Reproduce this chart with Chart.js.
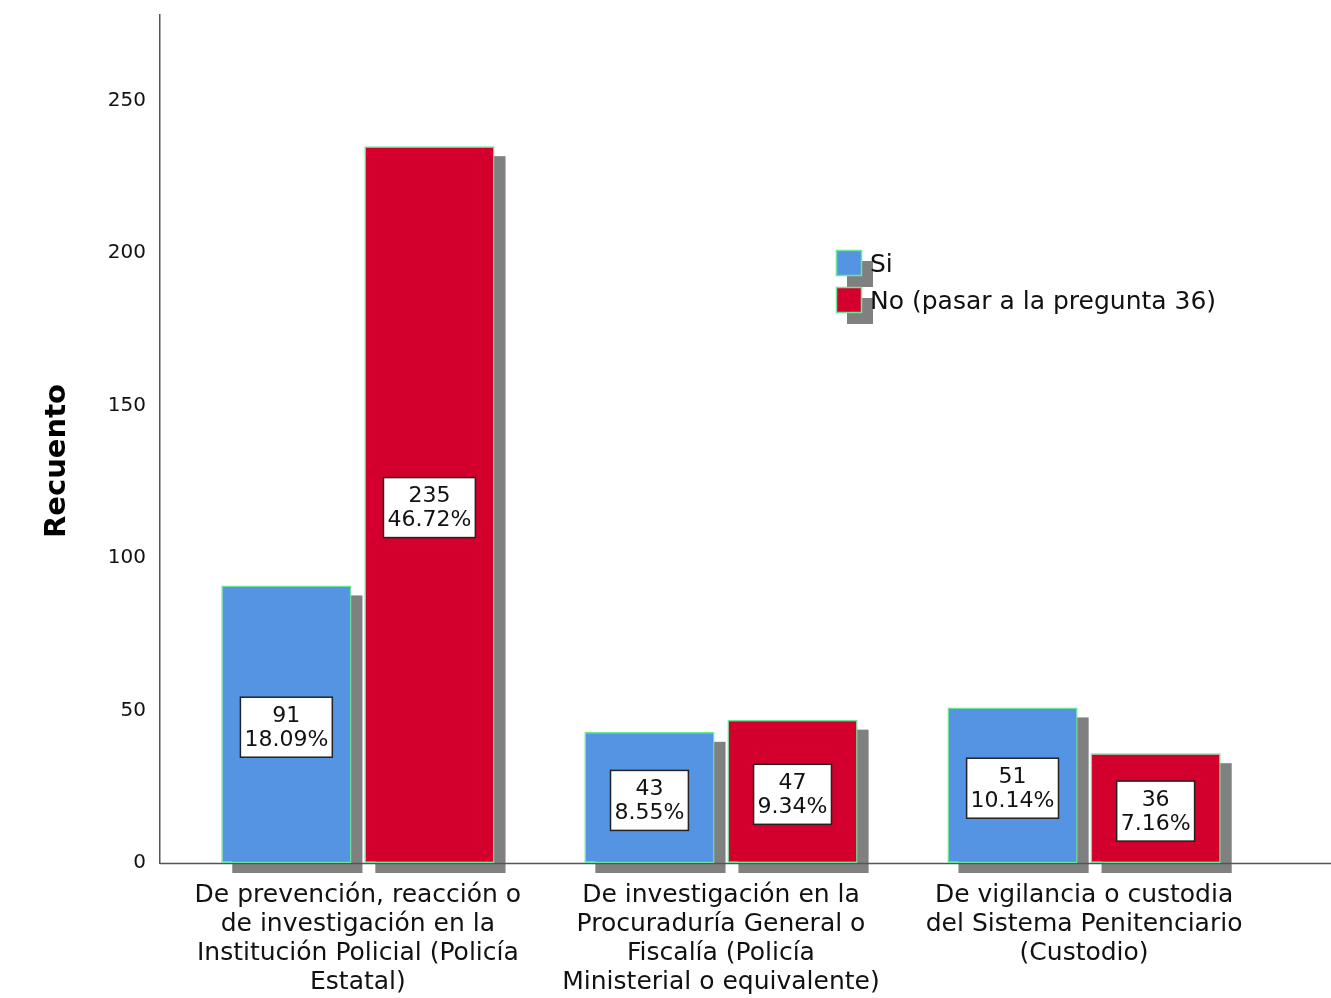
<!DOCTYPE html>
<html lang="es">
<head>
<meta charset="UTF-8">
<title>Recuento por institución</title>
<script src="https://cdn.jsdelivr.net/npm/chart.js"></script>
<style>
  html, body { margin: 0; padding: 0; background: #fff; }
  #wrap { width: 1331px; height: 998px; position: relative; }
</style>
</head>
<body>
<div id="wrap"><canvas id="chart" width="1331" height="998"></canvas></div>
<script>
// categories (multi-line tick labels) and counts
const categorias = [
  ['De prevención, reacción o', 'de investigación en la', 'Institución Policial (Policía', 'Estatal)'],
  ['De investigación en la', 'Procuraduría General o', 'Fiscalía (Policía', 'Ministerial o equivalente)'],
  ['De vigilancia o custodia', 'del Sistema Penitenciario', '(Custodio)']
];
const serieSi = [91, 43, 51];
const serieNo = [235, 47, 36];
const pctSi = ['18.09%', '8.55%', '10.14%'];
const pctNo = ['46.72%', '9.34%', '7.16%'];
const yTicks = [0, 50, 100, 150, 200, 250];

const AZUL = '#5494e2';
const ROJO = '#d3002d';
const BORDE = '#6ee39a';
const SOMBRA = '#808080';
const FONT = '"DejaVu Sans", sans-serif';
const SH_X = 11, SH_Y = 10;

// gray drop shadow behind every bar, then the axis line over it
const sombras = {
  id: 'sombras',
  beforeDatasetsDraw(chart) {
    const ctx = chart.ctx;
    ctx.save();
    ctx.fillStyle = SOMBRA;
    chart.data.datasets.forEach((ds, i) => {
      chart.getDatasetMeta(i).data.forEach(bar => {
        const w = bar.width;
        ctx.fillRect(bar.x - w / 2 + SH_X, bar.y + SH_Y, w, bar.base - bar.y);
      });
    });
    const a = chart.chartArea;
    ctx.strokeStyle = '#555';
    ctx.lineWidth = 1.5;
    ctx.beginPath();
    ctx.moveTo(a.left, a.bottom + 0.5);
    ctx.lineTo(chart.width, a.bottom + 0.5);
    ctx.stroke();
    ctx.restore();
  }
};

// boxed count + percent label in the middle of each bar
const etiquetas = {
  id: 'etiquetas',
  afterDatasetsDraw(chart) {
    const ctx = chart.ctx;
    ctx.save();
    ctx.font = '22px ' + FONT;
    ctx.textAlign = 'center';
    ctx.textBaseline = 'middle';
    chart.data.datasets.forEach((ds, i) => {
      chart.getDatasetMeta(i).data.forEach((bar, j) => {
        const l1 = String(ds.data[j].y);
        const l2 = ds.pct[j];
        const w = Math.max(ctx.measureText(l1).width, ctx.measureText(l2).width) + 8;
        const h = 60;
        const cx = bar.x, cy = (bar.y + bar.base) / 2 + 3;
        ctx.fillStyle = '#fff';
        ctx.fillRect(cx - w / 2, cy - h / 2, w, h);
        ctx.strokeStyle = '#222';
        ctx.lineWidth = 1.5;
        ctx.strokeRect(cx - w / 2, cy - h / 2, w, h);
        ctx.fillStyle = '#111';
        ctx.fillText(l1, cx, cy - 11);
        ctx.fillText(l2, cx, cy + 13);
      });
    });
    ctx.restore();
  }
};

// legend with shadowed swatches placed inside the plot, plus the y title
const leyenda = {
  id: 'leyenda',
  afterDraw(chart) {
    const ctx = chart.ctx;
    ctx.save();
    ctx.font = '25px ' + FONT;
    ctx.textBaseline = 'middle';
    const x = 836, ys = [250, 287], s = 26;
    chart.data.datasets.forEach((ds, i) => {
      ctx.fillStyle = SOMBRA;
      ctx.fillRect(x + SH_X, ys[i] + SH_Y + 1, s, s);
    });
    chart.data.datasets.forEach((ds, i) => {
      ctx.fillStyle = ds.backgroundColor;
      ctx.fillRect(x, ys[i], s, s);
      ctx.strokeStyle = BORDE;
      ctx.lineWidth = 1.5;
      ctx.strokeRect(x + 0.5, ys[i] + 0.5, s - 1, s - 1);
      ctx.fillStyle = '#111';
      ctx.fillText(ds.label, x + 34, ys[i] + s / 2 + 2);
    });

    ctx.translate(57, 461);
    ctx.rotate(-Math.PI / 2);
    ctx.textAlign = 'center';
    ctx.fillStyle = '#000';
    ctx.font = 'bold 29px ' + FONT;
    ctx.fillText('Recuento', 0, 0);
    ctx.restore();
  }
};

const puntos = arr => arr.map((v, i) => ({ x: i, y: v }));

new Chart(document.getElementById('chart'), {
  type: 'bar',
  data: {
    datasets: [
      { label: 'Si', data: puntos(serieSi), pct: pctSi, backgroundColor: AZUL,
        borderColor: BORDE, borderWidth: 1.5, borderSkipped: false },
      { label: 'No (pasar a la pregunta 36)', data: puntos(serieNo), pct: pctNo, backgroundColor: ROJO,
        borderColor: BORDE, borderWidth: 1.5, borderSkipped: false }
    ]
  },
  options: {
    responsive: false,
    animation: false,
    layout: { padding: { top: 15, right: 0, left: 0, bottom: 0 } },
    categoryPercentage: 0.788,
    barPercentage: 0.91,
    plugins: { legend: { display: false }, tooltip: { enabled: false } },
    scales: {
      x: {
        type: 'linear',
        min: -0.545,
        max: 2.68,
        offset: false,
        grid: { display: false, drawTicks: false },
        border: { display: false },
        afterBuildTicks: s => { s.ticks = categorias.map((c, i) => ({ value: i })); },
        afterFit: s => { s.height = 135; s.paddingLeft = 0; s.paddingRight = 0; },
        ticks: {
          padding: 18,
          maxRotation: 0,
          autoSkip: false,
          color: '#111',
          font: { family: FONT, size: 25, lineHeight: 1.16 },
          callback: v => categorias[v]
        }
      },
      y: {
        min: 0,
        max: 278,
        grid: { display: false, drawTicks: false },
        border: { display: true, color: '#555', width: 1.5 },
        afterBuildTicks: s => { s.ticks = yTicks.map(v => ({ value: v })); },
        afterFit: s => { s.width = 160; s.paddingTop = 0; s.paddingBottom = 0; },
        ticks: { padding: 14, color: '#111', font: { family: FONT, size: 20 } }
      }
    }
  },
  plugins: [sombras, etiquetas, leyenda]
});
</script>
</body>
</html>
